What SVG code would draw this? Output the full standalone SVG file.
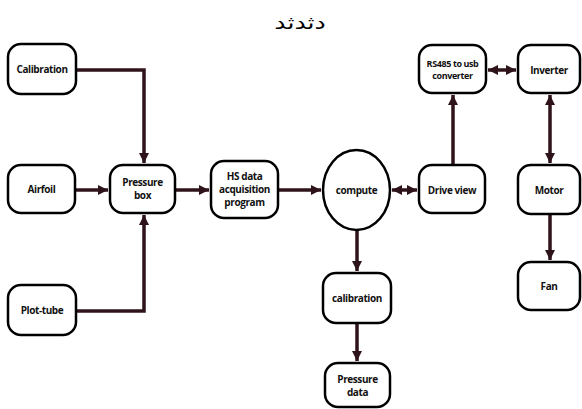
<svg xmlns="http://www.w3.org/2000/svg" width="582" height="409" viewBox="0 0 582 409">
<defs>
<style>
.n{fill:#fff;stroke:#000;stroke-width:2.5}
.t{font-family:"Open Sans","Liberation Sans",sans-serif;font-weight:bold;font-size:10px;fill:#111;text-anchor:middle;letter-spacing:-0.4px}
.c{fill:none;stroke:#2e131a;stroke-width:3.5}
</style>
<marker id="a" markerUnits="userSpaceOnUse" markerWidth="12" markerHeight="12" refX="10" refY="6" orient="auto-start-reverse">
<path d="M0,1 L10,6 L0,11 Z" fill="#2e131a"/>
</marker>
</defs>
<text transform="translate(300,29) scale(1.4,1)" font-family="DejaVu Sans,sans-serif" font-size="18" text-anchor="middle" fill="#000">دثدثد</text>
<g id="connectors">
<path class="c" d="M76,70 H144 V163" marker-end="url(#a)"/>
<path class="c" d="M76,311 H144 V215" marker-end="url(#a)"/>
<path class="c" d="M75,190 H108" marker-end="url(#a)"/>
<path class="c" d="M175,190 H209" marker-end="url(#a)"/>
<path class="c" d="M278,190 H321" marker-end="url(#a)"/>
<path class="c" d="M392,190 H417" marker-start="url(#a)" marker-end="url(#a)"/>
<path class="c" d="M453,165 V95" marker-end="url(#a)"/>
<path class="c" d="M488,70 H516" marker-start="url(#a)" marker-end="url(#a)"/>
<path class="c" d="M550,95 V163" marker-start="url(#a)" marker-end="url(#a)"/>
<path class="c" d="M550,214 V260" marker-end="url(#a)"/>
<path class="c" d="M357,230 V271" marker-end="url(#a)"/>
<path class="c" d="M357,323 V361" marker-end="url(#a)"/>
</g>
<g id="calibration-in"><rect class="n" x="8" y="44" width="68" height="50" rx="13"/><text class="t" x="42" y="73">Calibration</text></g>
<g id="airfoil"><rect class="n" x="8" y="165" width="67" height="48" rx="13"/><text class="t" x="41.5" y="193">Airfoil</text></g>
<g id="plot-tube"><rect class="n" x="8" y="285" width="68" height="50" rx="13"/><text class="t" x="42" y="314">Plot-tube</text></g>
<g id="pressure-box"><rect class="n" x="110" y="165" width="65" height="48" rx="13"/><text class="t" x="142.5" y="186">Pressure</text><text class="t" x="142.5" y="199">box</text></g>
<g id="hs-data"><rect class="n" x="211" y="161" width="67" height="57" rx="13"/><text class="t" x="244.5" y="180">HS data</text><text class="t" x="244.5" y="193">acquisition</text><text class="t" x="244.5" y="206">program</text></g>
<g id="compute"><ellipse class="n" cx="356.5" cy="190" rx="33.5" ry="40"/><text class="t" x="356.5" y="194">compute</text></g>
<g id="drive-view"><rect class="n" x="419" y="165" width="66" height="48" rx="13"/><text class="t" x="452" y="194">Drive view</text></g>
<g id="rs485"><rect class="n" x="419" y="45" width="67" height="48" rx="13"/><text class="t" x="452.5" y="67" style="font-size:9px">RS485 to usb</text><text class="t" x="452.5" y="79" style="font-size:9px">converter</text></g>
<g id="inverter"><rect class="n" x="518" y="45" width="62" height="48" rx="13"/><text class="t" x="549" y="74">Inverter</text></g>
<g id="motor"><rect class="n" x="518" y="165" width="62" height="49" rx="13"/><text class="t" x="549" y="194">Motor</text></g>
<g id="fan"><rect class="n" x="518" y="262" width="62" height="48" rx="13"/><text class="t" x="549" y="290">Fan</text></g>
<g id="calibration"><rect class="n" x="323" y="273" width="68" height="50" rx="13"/><text class="t" x="357" y="302">calibration</text></g>
<g id="pressure-data"><rect class="n" x="325" y="363" width="65" height="44" rx="13"/><text class="t" x="357.5" y="383">Pressure</text><text class="t" x="357.5" y="396">data</text></g>
</svg>
